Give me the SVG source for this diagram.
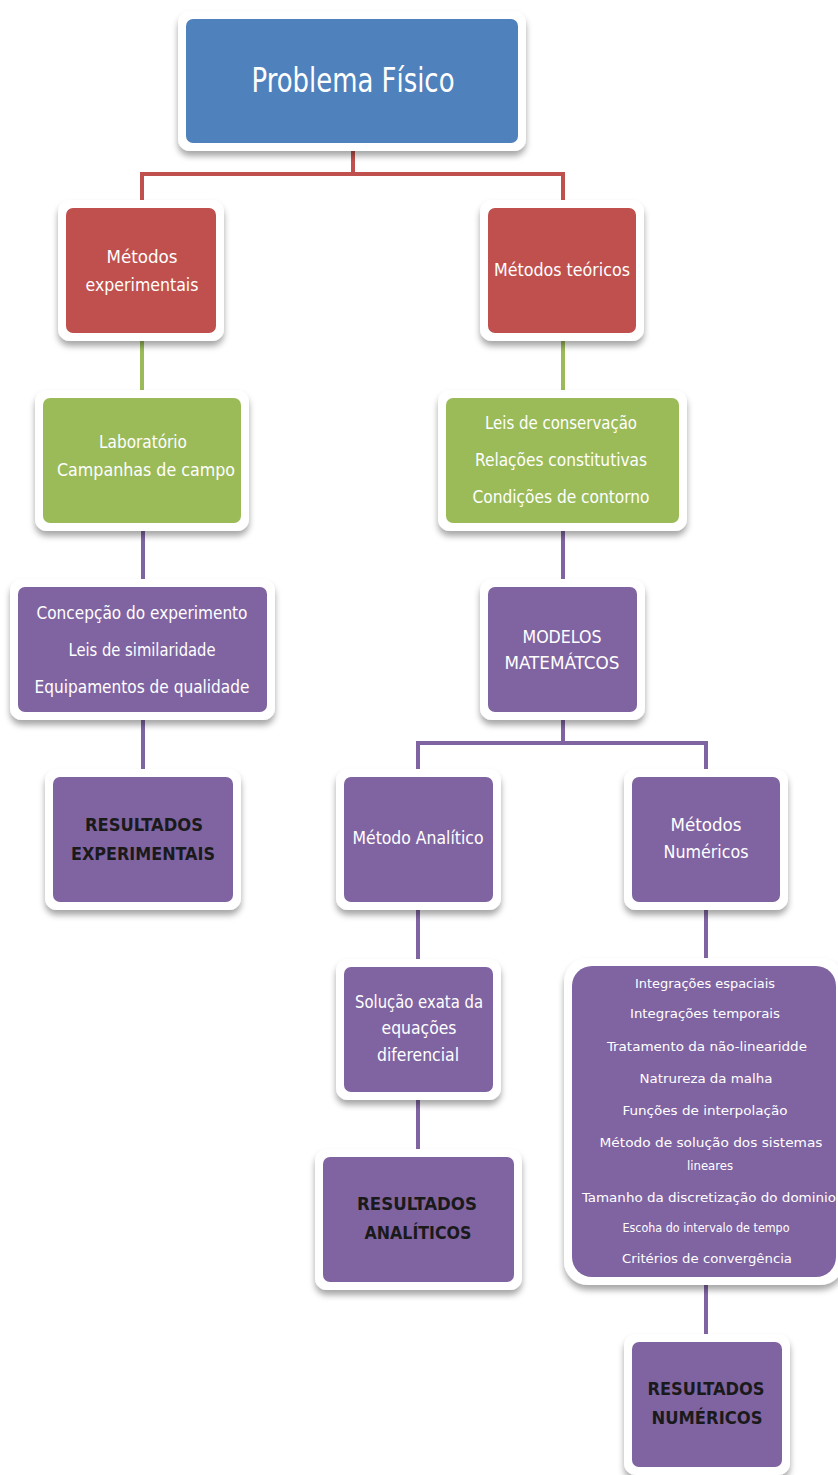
<svg xmlns="http://www.w3.org/2000/svg" width="838" height="1475" viewBox="0 0 838 1475">
<defs>
<filter id="sh" x="-20%" y="-20%" width="140%" height="150%">
<feDropShadow dx="0" dy="5" stdDeviation="3" flood-color="#000" flood-opacity="0.35"/>
</filter>
<style>
.frame{fill:#fff;filter:url(#sh)}
.blue{fill:#4F81BD}
.red{fill:#C0504D}
.green{fill:#9BBB59}
.purple{fill:#8064A2}
text{font-family:"Liberation Sans Narrow","DejaVu Sans Condensed","Liberation Sans",sans-serif;text-anchor:middle}
.w{fill:#fff;font-size:17px}
.big{fill:#fff;font-size:34px}
.s{fill:#fff;font-size:13px}
.dk{fill:#1a1a1a;font-size:18px;font-weight:bold}
.c{fill:none;stroke-width:4}
</style>
</defs>
<rect width="838" height="1475" fill="#fff"/>
<g id="connectors">
<path class="c" stroke="#C0504D" d="M353,150 V174 M142,200 V174 H563 V200"/>
<path class="c" stroke="#9BBB59" d="M142,338 V392 M563,338 V392"/>
<path class="c" stroke="#8064A2" d="M143,528 V582 M143,718 V772 M563,528 V582 M563,716 V743 M418,772 V743 H706 V772 M418,906 V962 M418,1096 V1152 M706,906 V962 M706,1282 V1338"/>
</g>
<g id="n-problema">
<rect class="frame" x="178" y="11" width="348" height="140" rx="12"/>
<rect class="blue" x="186" y="19" width="332" height="124" rx="7"/>
<text class="big" x="353" y="92" textLength="203" lengthAdjust="spacingAndGlyphs">Problema Físico</text>
</g>
<g id="n-exp">
<rect class="frame" x="58" y="200" width="166" height="141" rx="12"/>
<rect class="red" x="66" y="208" width="150" height="125" rx="7"/>
<text class="w" x="142" y="263" textLength="71" lengthAdjust="spacingAndGlyphs">Métodos</text>
<text class="w" x="142" y="291" textLength="113" lengthAdjust="spacingAndGlyphs">experimentais</text>
</g>
<g id="n-teo">
<rect class="frame" x="480" y="200" width="164" height="141" rx="12"/>
<rect class="red" x="488" y="208" width="148" height="125" rx="7"/>
<text class="w" x="562" y="276" textLength="136" lengthAdjust="spacingAndGlyphs">Métodos teóricos</text>
</g>
<g id="n-lab">
<rect class="frame" x="35" y="390" width="214" height="141" rx="12"/>
<rect class="green" x="43" y="398" width="198" height="125" rx="7"/>
<text class="w" x="143" y="448" textLength="88" lengthAdjust="spacingAndGlyphs">Laboratório</text>
<text class="w" x="146" y="476" textLength="178" lengthAdjust="spacingAndGlyphs">Campanhas de campo</text>
</g>
<g id="n-leis">
<rect class="frame" x="438" y="390" width="249" height="141" rx="12"/>
<rect class="green" x="446" y="398" width="233" height="125" rx="7"/>
<text class="w" x="561" y="429" textLength="152" lengthAdjust="spacingAndGlyphs">Leis de conservação</text>
<text class="w" x="561" y="466" textLength="172" lengthAdjust="spacingAndGlyphs">Relações constitutivas</text>
<text class="w" x="561" y="503" textLength="177" lengthAdjust="spacingAndGlyphs">Condições de contorno</text>
</g>
<g id="n-concepcao">
<rect class="frame" x="10" y="579" width="265" height="141" rx="12"/>
<rect class="purple" x="18" y="587" width="249" height="125" rx="7"/>
<text class="w" x="142" y="619" textLength="211" lengthAdjust="spacingAndGlyphs">Concepção do experimento</text>
<text class="w" x="142" y="656" textLength="147" lengthAdjust="spacingAndGlyphs">Leis de similaridade</text>
<text class="w" x="142" y="693" textLength="215" lengthAdjust="spacingAndGlyphs">Equipamentos de qualidade</text>
</g>
<g id="n-modelos">
<rect class="frame" x="480" y="579" width="165" height="141" rx="12"/>
<rect class="purple" x="488" y="587" width="149" height="125" rx="7"/>
<text class="w" x="562" y="643" textLength="79" lengthAdjust="spacingAndGlyphs">MODELOS</text>
<text class="w" x="562" y="669" textLength="115" lengthAdjust="spacingAndGlyphs">MATEMÁTCOS</text>
</g>
<g id="n-res-exp">
<rect class="frame" x="45" y="769" width="196" height="141" rx="12"/>
<rect class="purple" x="53" y="777" width="180" height="125" rx="7"/>
<text class="dk" x="144" y="831" textLength="118" lengthAdjust="spacingAndGlyphs">RESULTADOS</text>
<text class="dk" x="143" y="860" textLength="144" lengthAdjust="spacingAndGlyphs">EXPERIMENTAIS</text>
</g>
<g id="n-analitico">
<rect class="frame" x="336" y="769" width="165" height="141" rx="12"/>
<rect class="purple" x="344" y="777" width="149" height="125" rx="7"/>
<text class="w" x="418" y="844" textLength="131" lengthAdjust="spacingAndGlyphs">Método Analítico</text>
</g>
<g id="n-numericos">
<rect class="frame" x="624" y="769" width="164" height="141" rx="12"/>
<rect class="purple" x="632" y="777" width="148" height="125" rx="7"/>
<text class="w" x="706" y="831" textLength="71" lengthAdjust="spacingAndGlyphs">Métodos</text>
<text class="w" x="706" y="858" textLength="85" lengthAdjust="spacingAndGlyphs">Numéricos</text>
</g>
<g id="n-solucao">
<rect class="frame" x="336" y="959" width="165" height="141" rx="12"/>
<rect class="purple" x="344" y="967" width="149" height="125" rx="7"/>
<text class="w" x="419" y="1008" textLength="128" lengthAdjust="spacingAndGlyphs">Solução exata da</text>
<text class="w" x="419" y="1034" textLength="75" lengthAdjust="spacingAndGlyphs">equações</text>
<text class="w" x="418" y="1061" textLength="82" lengthAdjust="spacingAndGlyphs">diferencial</text>
</g>
<g id="n-lista">
<rect class="frame" x="564" y="958" width="280" height="327" rx="24"/>
<rect class="purple" x="572" y="966" width="264" height="311" rx="20"/>
<text class="s" x="705" y="988" textLength="140" lengthAdjust="spacingAndGlyphs">Integrações espaciais</text>
<text class="s" x="705" y="1018" textLength="150" lengthAdjust="spacingAndGlyphs">Integrações temporais</text>
<text class="s" x="707" y="1051" textLength="200" lengthAdjust="spacingAndGlyphs">Tratamento da não-linearidde</text>
<text class="s" x="706" y="1083" textLength="133" lengthAdjust="spacingAndGlyphs">Natrureza da malha</text>
<text class="s" x="705" y="1115" textLength="165" lengthAdjust="spacingAndGlyphs">Funções de interpolação</text>
<text class="s" x="711" y="1147" textLength="223" lengthAdjust="spacingAndGlyphs">Método de solução dos sistemas</text>
<text class="s" x="710" y="1170" textLength="46" lengthAdjust="spacingAndGlyphs">lineares</text>
<text class="s" x="709" y="1202" textLength="254" lengthAdjust="spacingAndGlyphs">Tamanho da discretização do dominio</text>
<text class="s" x="706" y="1232" textLength="167" lengthAdjust="spacingAndGlyphs">Escoha do intervalo de tempo</text>
<text class="s" x="707" y="1263" textLength="170" lengthAdjust="spacingAndGlyphs">Critérios de convergência</text>
</g>
<g id="n-res-ana">
<rect class="frame" x="315" y="1149" width="207" height="141" rx="12"/>
<rect class="purple" x="323" y="1157" width="191" height="125" rx="7"/>
<text class="dk" x="417" y="1210" textLength="120" lengthAdjust="spacingAndGlyphs">RESULTADOS</text>
<text class="dk" x="418" y="1239" textLength="107" lengthAdjust="spacingAndGlyphs">ANALÍTICOS</text>
</g>
<g id="n-res-num">
<rect class="frame" x="624" y="1334" width="166" height="141" rx="12"/>
<rect class="purple" x="632" y="1342" width="150" height="125" rx="7"/>
<text class="dk" x="706" y="1395" textLength="117" lengthAdjust="spacingAndGlyphs">RESULTADOS</text>
<text class="dk" x="707" y="1424" textLength="111" lengthAdjust="spacingAndGlyphs">NUMÉRICOS</text>
</g>
</svg>
